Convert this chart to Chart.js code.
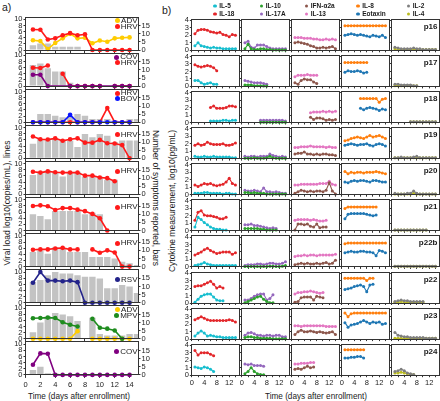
<!DOCTYPE html>
<html>
<head>
<meta charset="utf-8">
<script src="https://cdn.jsdelivr.net/npm/chart.js@4.4.1/dist/chart.umd.min.js"></script>
<style>
  body { margin: 0; width: 440px; height: 401px; position: relative; overflow: hidden; background: #fff;
         font-family: 'Liberation Sans', Arial, sans-serif; color: #1a1a1a; }
  canvas { position: absolute; }
  .txt { position: absolute; white-space: nowrap; }
  .vt { position: absolute; white-space: nowrap; font-size: 8.5px; }
  .dot { display: inline-block; border-radius: 50%; vertical-align: middle; }
</style>
</head>
<body>
<div class="txt" style="left:2px;top:1px;font-size:10.5px">a)</div>
<div class="txt" style="left:162px;top:4px;font-size:10.5px">b)</div>
<div class="vt" style="left:6.5px;top:203px;transform:translate(-50%,-50%) rotate(-90deg)">Viral load log10(copies/mL), lines</div>
<div class="vt" style="left:155.5px;top:198px;transform:translate(-50%,-50%) rotate(90deg)">Number of symptoms reported, bars</div>
<div class="vt" style="left:171.5px;top:201px;transform:translate(-50%,-50%) rotate(-90deg)">Cytokine measurement, log10(pg/mL)</div>
<div class="txt" style="left:79px;top:396px;font-size:8.2px;transform:translate(-50%,-50%)">Time (days after enrollment)</div>
<div class="txt" style="left:316px;top:396px;font-size:8.2px;transform:translate(-50%,-50%)">Time (days after enrollment)</div>
<script>
// ---------- panel a data ----------
const symptomDays = [1, 2, 3, 4, 5, 6, 7, 8, 9, 10, 11, 12, 13, 14, 15]
const virusDays = [1, 2, 3, 4, 5, 6, 7, 8, 9, 10, 11, 12, 13, 14]
const loadTicks = [0, 2, 4, 6, 8, 10]
const symptomTicks = [0, 5, 10, 15]
const dayTicksA = [0, 2, 4, 6, 8, 10, 12, 14]

const symptoms1 = [3, 4, 4, 2, 2, 2, 2, 0, 0, 0, 0, 0, 0, 0, 0]
const symptoms2 = [13, 14, 11, 9, 9, 2, 0, 0, 0, 0, 0, 0, 0, 0, 0]
const symptoms3 = [0, 5, 5, 4, 3, 4, 5, 4, 2, 2, 2, 1, 0, 2, 2]
const symptoms4 = [9, 12, 12, 12, 11, 11, 7, 15, 13, 15, 14, 10, 11, 11, 11]
const symptoms5 = [12, 14, 15, 14, 11, 14, 14, 11, 11, 11, 9, 9, 0, 0, 0]
const symptoms6 = [10, 9, 7, 12, 12, 12, 12, 10, 11, 10, 0, 0, 0, 0, 0]
const symptoms7 = [9, 10, 8, 12, 11, 9, 9, 9, 6, 6, 6, 5, 3, 2, 1]
const symptoms8 = [13, 14, 17, 19, 18, 18, 17, 16, 16, 15, 9, 9, 11, 10, 6]
const symptoms9 = [4, 10, 14, 16, 15, 14, 11, 0, 13, 3, 2, 2, 2, 3, 3]
const symptoms10 = [3, 5, 1, 1, 0, 0, 0, 0, 0, 0, 0, 0, 0, 0, 0]

const adv1 = [3.2, 2.9, 0.3, 2.3, 3.8, 5.3, 3.8, 4.0, 2.2, 3.1, 2.7, 3.8, 4.0, 4.1]
const hrv1 = [6.7, 6.6, 3.4, 3.8, 4.8, 5.5, 4.8, 5.1, 0, 0, 0, 0, 0, 0]
const cov2 = [3.7, 3.7, 0, null, null, 0, 0, 0, 0, 0, null, 0, 0, 0]
const hrv2 = [6.0, 5.9, 6.7, null, 4.0, 0, 0, 0, 0, 0, null, 0, 0, 0]
const hrv3 = [0, 0, 0, 0, 0, 0, 0, 0, 0, 0, 4.6, 0, 0, 0]
const bov3 = [0, 0, 0, 0, 0, 2.4, 0, 0, 0, 0, 0, 0, 0, 0]
const hrv4 = [7.1, 6.2, 6.1, 6.5, 5.7, 6.2, 6.5, 5.1, 5.1, 6.0, 4.9, 4.8, 4.3, 0]
const hrv5 = [7.4, 7.1, 7.5, 7.2, 7.1, 7.1, 7.1, 6.1, 6.1, 5.5, 5.3, 4.3, null, null]
const hrv6 = [8.0, 8.2, 7.9, 6.7, 7.3, 7.3, 6.8, 6.3, 5.4, 4.0, 0, null, null, null]
const hrv7 = [5.5, 5.6, 5.6, 5.9, 6.1, 5.6, 5.6, null, 5.6, 4.5, 5.3, 4.6, 0, 0]
const rsv8 = [6.5, 10.0, 7.2, 7.2, 7.0, 7.2, 6.7, 0, 0, 0, 0, 0, 0, 0]
const adv9 = [0, 0, 0, 0, 0, 0, 2.5, null, 0, 0, 0, 0, 0, 0]
const mpv9 = [6.7, 6.8, 6.9, 6.8, 5.4, 4.6, 4.0, null, 6.5, 3.6, 3.3, 2.7, 0, null]
const cov10 = [3.3, 7.0, 6.9, 0, 0, 0, 0, 0, 0, 0, 0, 0, 0, 0]

// ---------- panel b data (one row per patient) ----------
const patients = ['p16', 'p17', 'p18', 'p19', 'p20', 'p21', 'p22b', 'p22', 'p23', 'p24']
const sampleDays = [
  [1, 2, 3, 4, 5, 6, 7, 8, 9, 10, 11, 12, 13, 14],
  [1, 2, 3, 4, 5, 6, 7, 8],
  [6, 7, 8, 9, 10, 11, 12, 13, 14],
  [1, 2, 3, 4, 5, 6, 7, 8, 9, 10, 11, 12, 13, 14],
  [1, 2, 3, 4, 5, 6, 7, 8, 9, 10, 11, 12, 13, 14],
  [1, 2, 3, 4, 5, 6, 7, 8, 9, 10, 11],
  [1, 2, 3, 4, 5, 6, 7, 8, 9, 10, 11, 12, 13, 14],
  [1, 2, 3, 4, 5, 6, 7, 8, 9, 10],
  [1, 2, 3, 4, 5, 6, 7, 8, 9, 10, 11, 12, 13, 14],
  [1, 2, 3, 4, 5, 6, 7]
]
const cytoTicks = [0, 1, 2, 3, 4]
const dayMarksB = [0, 2, 4, 6, 8, 10, 12, 14]
const dayLabelsB = [0, 4, 8, 12]

const il5 = [
  [0.6, 1.0, 0.6, 0.5, 0.4, 0.3, 0.4, 0.3, 0.3, 0.2, 0.2, 0.2, 0.2, 0.2],
  [0.8, 0.8, 0.5, 0.3, 0.4, 0.5, 0.3, 0.3],
  [0.2, 0.2, 0.2, 0.2, 0.3, 0.3, 0.2, 0.3, 0.3],
  [0.3, 0.2, 0.2, 0.3, 0.2, 0.2, 0.3, 0.2, 0.2, 0.2, 0.2, 0.2, 0.1, 0.1],
  [0.2, 0.2, 0.2, 0.3, 0.3, 0.2, 0.2, 0.2, 0.2, 0.1, 0.2, 0.2, 0.1, 0.1],
  [0.5, 1.8, 1.5, 1.1, 0.8, 0.5, 0.3, 0.2, 0.2, 0.1, 0.1],
  [0.2, 0.3, 0.4, 0.6, 0.4, 0.3, 0.2, 0.2, 0.2, 0.2, 0.2, 0.2, 0.2, 0.2],
  [0.1, 0.5, 0.9, 1.1, 1.2, 1.2, 0.8, 0.4, 0.3, 0.3],
  [0.4, 0.8, 1.1, 0.8, 0.4, 0.5, 0.4, 0.3, 0.3, 0.2, 0.2, 0.2, 0.2, 0.2],
  [1.1, 1.0, 0.9, 1.1, 1.0, 0.8, 0.5]
]
const il18 = [
  [2.2, 2.7, 2.8, 2.8, 2.7, 2.5, 2.4, 2.3, 2.4, 2.1, 2.0, 1.8, 2.1, 2.0],
  [2.9, 2.7, 2.6, 2.7, 2.8, 2.7, 2.5, 2.1],
  [2.0, 2.2, 1.9, 1.9, 1.9, 2.0, 2.2, 2.2, 2.1],
  [1.8, 2.0, 1.8, 1.9, 2.2, 2.0, 1.9, 1.9, 1.9, 2.0, 1.8, 1.8, 1.9, 2.1],
  [1.3, 1.1, 1.3, 1.5, 1.4, 1.5, 1.3, 1.2, 1.3, 1.4, 1.7, 2.2, 1.5, 1.3],
  [1.4, 2.5, 2.7, 2.1, 2.0, 2.0, 1.9, 1.8, 1.6, 1.6, 1.8],
  [1.6, 1.8, 2.0, 2.3, 2.5, 2.2, 2.0, 1.8, 1.9, 2.0, 2.0, 2.0, 1.7, 1.9],
  [2.2, 2.3, 2.3, 2.5, 2.7, 2.9, 2.5, 2.0, 2.2, 2.0],
  [2.6, 2.8, 3.0, 2.8, 2.6, 2.5, 2.5, 2.5, 2.5, 2.5, 2.5, 2.6, 2.5, 2.3],
  [3.3, 2.7, 3.0, 3.0, 3.0, 2.8, 2.6]
]
const il10 = [
  [0.2, 0.8, 0.2, 0.1, 0.1, 0.2, 0.2, 0.1, 0.1, 0.05, 0.05, 0.05, 0.05, 0.05],
  [0.2, 0.2, 0.2, 0.1, 0.1, 0.1, 0.05, 0.05],
  [0.05, 0.05, 0.05, 0.05, 0.05, 0.05, 0.05, 0.05, 0.05],
  [0.05, 0.05, 0.05, 0.1, 0.05, 0.05, 0.05, 0.1, 0.3, 0.1, 0.05, 0.05, 0.05, 0.05],
  [0.3, 0.3, 0.2, 0.3, 0.2, 0.2, 0.2, 0.1, 0.1, 0.1, 0.1, 0.1, 0.1, 0.1],
  [0.3, 0.3, 0.3, 0.3, 0.3, 0.2, 0.2, 0.1, 0.1, 0.1, 0.1],
  [0.05, 0.05, 0.05, 0.05, 0.05, 0.05, 0.05, 0.05, 0.1, 0.1, 0.05, 0.05, 0.1, 0.2],
  [0.05, 0.2, 0.4, 0.6, 0.8, 0.9, 0.5, 0.2, 0.05, 0.05],
  [0.2, 0.3, 0.3, 0.2, 0.2, 0.1, 0.1, 0.1, 0.1, 0.05, 0.05, 0.05, 0.05, 0.05],
  [0.2, 0.5, 1.0, 0.5, 0.2, 0.1, 0.05]
]
const il17a = [
  [1.0, 1.2, 0.4, 0.3, 0.7, 0.7, 0.7, 0.5, 0.3, 0.2, 0.2, 0.2, 0.2, 0.2],
  [0.8, 0.7, 0.6, 0.5, 0.5, 0.5, 0.4, 0.3],
  [0.3, 0.3, 0.3, 0.3, 0.3, 0.3, 0.3, 0.3, 0.2],
  [0.3, 0.2, 0.3, 0.3, 0.2, 0.3, 0.3, 0.3, 0.6, 0.4, 0.3, 0.2, 0.3, 0.2],
  [0.6, 0.5, 0.5, 0.6, 0.5, 0.4, 0.9, 0.4, 0.4, 0.3, 0.4, 0.3, 0.2, 0.2],
  [0.8, 0.8, 0.9, 0.7, 0.7, 0.6, 0.5, 0.4, 0.3, 0.4, 0.3],
  [0.2, 0.3, 0.3, 0.3, 0.4, 0.4, 0.3, 0.4, 0.5, 0.5, 0.4, 0.4, 0.5, 0.7],
  [0.4, 0.4, 0.6, 0.9, 1.1, 1.2, 1.2, 0.4, 0.6, 1.1],
  [0.5, 0.8, 0.9, 0.7, 0.5, 0.5, 0.4, 0.5, 0.5, 0.4, 0.5, 0.5, 0.3, 0.3],
  [1.5, 1.4, 1.5, 1.3, 1.3, 1.3, 1.2]
]
const ifna2a = [
  [1.0, 1.1, 1.0, 0.9, 0.8, 0.6, 0.5, 0.3, 0.3, 0.4, 0.3, 0.4, 0.5, 0.2],
  [0.5, 0.3, 0.8, 1.0, 0.9, 0.9, 0.6, 0.4],
  [0.7, 0.4, 0.6, 0.6, 0.5, 0.3, 0.4, 0.3, 0.4],
  [0.6, 0.7, 0.7, 0.9, 0.6, 0.6, 0.5, 0.6, 0.5, 0.6, 0.6, 0.5, 0.5, 0.4],
  [0.2, 0.4, 0.6, 0.5, 0.4, 0.5, 0.4, 0.5, 0.5, 0.4, 0.6, 1.6, 0.5, 0.1],
  [0.1, 0.9, 0.9, 0.8, 0.9, 0.6, 0.5, 0.9, 0.4, 0.5, 0.5],
  [0.3, 0.4, 0.5, 0.4, 0.5, 0.4, 0.4, 0.5, 0.4, 0.5, 0.6, 0.4, 0.5, 0.9],
  [0.1, 0.2, 0.7, 0.8, 0.8, 0.8, 0.4, 0.9, 0.8, 0.7],
  [0.6, 1.0, 1.2, 1.0, 1.0, 1.1, 1.0, 0.9, 1.0, 0.9, 0.8, 0.9, 1.0, 0.6],
  [0.8, 0.9, 0.8, 1.0, 1.2, 1.0, 1.1]
]
const il13 = [
  [1.7, 1.7, 1.7, 1.6, 1.6, 1.6, 1.5, 1.5, 1.4, 1.4, 1.5, 1.4, 1.5, 1.4],
  [1.3, 1.5, 1.5, 1.5, 1.6, 1.5, 1.5, 1.5],
  [1.3, 1.4, 1.4, 1.4, 1.5, 1.4, 1.5, 1.4, 1.5],
  [1.5, 1.5, 1.6, 1.6, 1.6, 1.7, 1.6, 1.6, 1.6, 1.6, 1.5, 1.6, 1.5, 1.5],
  [1.3, 1.3, 1.4, 1.4, 1.4, 1.4, 1.4, 1.4, 1.5, 1.5, 1.5, 1.8, 1.4, 1.3],
  [1.4, 1.5, 1.5, 1.5, 1.5, 1.4, 1.5, 1.4, 1.3, 1.3, 1.4],
  [1.4, 1.5, 1.5, 1.6, 1.5, 1.6, 1.6, 1.5, 1.6, 1.6, 1.6, 1.6, 1.6, 1.7],
  [1.2, 1.4, 1.4, 1.5, 1.5, 1.6, 1.5, 1.4, 1.3, 1.4],
  [1.8, 1.8, 1.7, 1.8, 1.8, 1.8, 1.8, 1.8, 1.8, 1.8, 1.7, 1.7, 1.7, 1.7],
  [1.5, 1.5, 1.6, 1.6, 1.6, 1.7, 1.7]
]
const il8 = [
  [3.3, 3.3, 3.3, 3.3, 3.3, 3.3, 3.3, 3.3, 3.3, 3.3, 3.3, 3.3, 3.3, 3.3],
  [3.2, 3.2, 3.2, 3.2, 3.2, 3.2, 3.2, 3.2],
  [3.2, 3.2, 3.2, 3.2, 3.2, 3.2, 2.7, 3.1, 3.2],
  [2.4, 2.5, 2.7, 2.8, 2.9, 2.8, 2.7, 2.9, 3.1, 2.9, 3.0, 3.1, 2.9, 2.7],
  [3.1, 2.8, 3.0, 2.9, 3.0, 3.0, 2.9, 3.0, 3.0, 3.0, 3.1, 3.0, 2.9, 2.8],
  [3.0, 3.2, 3.2, 3.2, 3.2, 3.2, 3.2, 3.2, 3.2, 3.2, 3.2],
  [3.1, 3.2, 3.2, 3.2, 3.2, 3.2, 3.2, 3.2, 3.2, 3.2, 3.2, 3.2, 3.2, 3.2],
  [3.3, 3.3, 3.3, 3.3, 3.3, 3.3, 3.3, 3.0, 3.3, 3.3],
  [3.5, 3.0, 3.4, 3.5, 3.5, 3.5, 3.5, 3.5, 3.5, 3.5, 3.5, 3.5, 3.5, 3.5],
  [3.4, 3.4, 3.4, 3.4, 3.4, 3.4, 3.4]
]
const eotaxin = [
  [2.0, 2.1, 2.2, 2.1, 2.0, 2.1, 2.0, 1.9, 1.8, 2.0, 1.9, 1.8, 2.0, 1.7],
  [1.9, 2.1, 2.0, 2.0, 2.1, 2.0, 1.8, 1.9],
  [1.9, 1.7, 1.9, 2.0, 1.9, 1.8, 1.6, 1.8, 1.7],
  [1.8, 1.9, 2.0, 1.9, 1.8, 1.9, 1.9, 2.0, 1.8, 1.7, 1.9, 2.0, 1.9, 1.7],
  [1.7, 1.6, 1.8, 1.9, 1.8, 1.9, 1.9, 1.8, 1.7, 1.9, 1.9, 1.8, 1.7, 1.7],
  [1.6, 2.2, 2.3, 2.3, 2.3, 2.3, 2.3, 2.2, 2.1, 2.0, 2.1],
  [1.9, 2.0, 2.1, 2.0, 2.0, 2.1, 2.1, 2.0, 2.0, 1.9, 1.5, 2.2, 2.1, 1.9],
  [1.8, 1.9, 2.0, 2.2, 2.3, 2.4, 2.2, 1.5, 2.4, 2.5],
  [2.2, 1.6, 1.9, 2.0, 2.1, 2.3, 2.5, 2.3, 2.1, 2.3, 2.2, 2.3, 2.0, 2.1],
  [2.3, 2.3, 2.4, 2.4, 2.5, 2.5, 2.3]
]
const il2 = [
  [0.4, 0.3, 0.2, 0.2, 0.2, 0.2, 0.3, 0.2, 0.2, 0.1, 0.1, 0.1, 0.1, 0.1],
  [0.3, 0.3, 0.2, 0.2, 0.2, 0.2, 0.1, 0.1],
  [0.1, 0.1, 0.1, 0.1, 0.1, 0.1, 0.1, 0.1, 0.1],
  [0.1, 0.1, 0.2, 0.1, 0.1, 0.1, 0.2, 0.3, 0.1, 0.1, 0.1, 0.1, 0.1, 0.1],
  [0.2, 0.1, 0.1, 0.1, 0.2, 0.2, 0.5, 0.2, 0.1, 0.1, 0.1, 0.1, 0.1, 0.1],
  [0.1, 0.1, 0.1, 0.1, 0.1, 0.1, 0.1, 0.1, 0.1, 0.1, 0.1],
  [0.1, 0.1, 0.1, 0.1, 0.1, 0.1, 0.1, 0.1, 0.1, 0.1, 0.1, 0.1, 0.1, 0.1],
  [0.2, 0.3, 0.4, 0.3, 0.3, 0.2, 0.2, 0.2, 0.2, 0.2],
  [0.9, 0.5, 0.4, 0.3, 0.3, 0.2, 0.2, 0.2, 0.2, 0.2, 0.1, 0.1, 0.1, 0.1],
  [0.5, 0.6, 0.8, 0.6, 0.3, 0.2, 0.1]
]
const il4 = [
  [0.2, 0.1, 0.1, 0.1, 0.1, 0.1, 0.1, 0.1, 0.1, 0.1, 0.1, 0.1, 0.1, 0.1],
  [0.1, 0.1, 0.1, 0.1, 0.1, 0.1, 0.1, 0.1],
  [0.1, 0.1, 0.1, 0.1, 0.1, 0.1, 0.1, 0.1, 0.1],
  [0.1, 0.1, 0.1, 0.1, 0.1, 0.1, 0.1, 0.1, 0.1, 0.1, 0.1, 0.1, 0.1, 0.1],
  [0.1, 0.1, 0.1, 0.1, 0.1, 0.1, 0.2, 0.1, 0.1, 0.1, 0.1, 0.1, 0.1, 0.1],
  [0.1, 0.1, 0.1, 0.1, 0.1, 0.1, 0.1, 0.1, 0.1, 0.1, 0.1],
  [0.1, 0.1, 0.1, 0.1, 0.1, 0.1, 0.1, 0.1, 0.1, 0.1, 0.1, 0.1, 0.1, 0.1],
  [0.1, 0.1, 0.2, 0.1, 0.1, 0.1, 0.1, 0.1, 0.1, 0.1],
  [0.1, 0.1, 0.1, 0.1, 0.1, 0.1, 0.1, 0.1, 0.1, 0.1, 0.1, 0.1, 0.1, 0.1],
  [0.3, 0.3, 0.4, 0.3, 0.2, 0.1, 0.1]
]

// ---------- styles ----------
const virusColors = { HRV: '#ff1a1a', ADV: '#ffcc00', COV: '#800080', BOV: '#0a14ff', RSV: '#23238a', MPV: '#1e8c1e' }
const barColor = '#c3c3c3'
const frameColor = '#333'

// panel a: legend order, and which line sits on top
const virusPanels = [
  { bars: symptoms1, series: [['ADV', adv1], ['HRV', hrv1]], top: 'HRV' },
  { bars: symptoms2, series: [['COV', cov2], ['HRV', hrv2]], top: 'COV', span: 'COV' },
  { bars: symptoms3, series: [['HRV', hrv3], ['BOV', bov3]], top: 'BOV' },
  { bars: symptoms4, series: [['HRV', hrv4]] },
  { bars: symptoms5, series: [['HRV', hrv5]] },
  { bars: symptoms6, series: [['HRV', hrv6]] },
  { bars: symptoms7, series: [['HRV', hrv7]] },
  { bars: symptoms8, series: [['RSV', rsv8]] },
  { bars: symptoms9, series: [['ADV', adv9], ['MPV', mpv9]], top: 'MPV' },
  { bars: symptoms10, series: [['COV', cov10]] }
]

// panel b columns: [name, values, colour]
const cytoColumns = [
  [['IL-5', il5, '#17becf'], ['IL-18', il18, '#e3262a']],
  [['IL-10', il10, '#2ca02c'], ['IL-17A', il17a, '#9467bd']],
  [['IFN-α2a', ifna2a, '#8c564b'], ['IL-13', il13, '#e377c2']],
  [['IL-8', il8, '#ff7f0e'], ['Eotaxin', eotaxin, '#1f77b4']],
  [['IL-2', il2, '#7f7f7f'], ['IL-4', il4, '#bcbd22']]
]
const legendX = [215, 261.5, 306.5, 358, 408.5]

Chart.defaults.font.family = "'Liberation Sans', Arial, sans-serif"
Chart.defaults.font.size = 7.5
Chart.defaults.color = '#222'
Chart.defaults.animation = false
Chart.defaults.events = []
Chart.defaults.plugins.legend.display = false
Chart.defaults.plugins.tooltip.enabled = false

const framePlugin = {
  id: 'frame',
  afterDraw(chart) {
    const { ctx, chartArea: a } = chart
    const snap = v => Math.round(v - 0.5) + 0.5
    const l = snap(a.left), t = snap(a.top), r = snap(a.right), b = snap(a.bottom)
    ctx.save()
    ctx.strokeStyle = frameColor
    ctx.lineWidth = 1
    ctx.strokeRect(l, t, r - l, b - t)
    ctx.restore()
  }
}

// canvas placed so the plot area lands on the given page box
function frameBox(left, top, w, h, extL, extR, extT, extB) {
  const cx = Math.floor(left - extL), cy = Math.floor(top - extT)
  const cw = Math.ceil(left + w + extR) - cx
  const ch = Math.ceil(top + h + extB) - cy
  return { cx, cy, cw, ch, left: left - cx, right: cx + cw - (left + w), top: top - cy, bottom: cy + ch - (top + h) }
}

function addCanvas(b) {
  const c = document.createElement('canvas')
  c.width = b.cw
  c.height = b.ch
  c.style.left = b.cx + 'px'
  c.style.top = b.cy + 'px'
  c.style.width = b.cw + 'px'
  c.style.height = b.ch + 'px'
  document.body.appendChild(c)
  return c
}

function addDiv(html, css) {
  const d = document.createElement('div')
  d.className = 'txt'
  d.style.cssText += css
  d.innerHTML = html
  document.body.appendChild(d)
  return d
}

const tickGrid = len => ({ drawOnChartArea: false, offset: false, tickLength: len, color: frameColor })
const setTicks = list => s => { s.ticks = list.map(v => ({ value: v })) }

// ---------- panel a ----------
const A_LEFT = 25.5, A_W = 113, A_TOP = 17, A_STEP = 36.1, A_H = 33

virusPanels.forEach((p, i) => {
  const last = i === virusPanels.length - 1
  const plotTop = A_TOP + A_STEP * i
  const b = frameBox(A_LEFT, plotTop, A_W, A_H, 17, 20, 6, last ? 16 : 6)

  const datasets = [{
    type: 'bar',
    data: symptomDays.map((d, k) => ({ x: d, y: p.bars[k] })),
    yAxisID: 'y1',
    backgroundColor: barColor,
    barPercentage: 0.86,
    categoryPercentage: 1,
    order: 5
  }]
  p.series.forEach(([name, vals]) => {
    const c = virusColors[name]
    datasets.push({
      type: 'line',
      label: name,
      data: virusDays.map((d, k) => ({ x: d, y: vals[k] })),
      yAxisID: 'y',
      borderColor: c,
      backgroundColor: c,
      pointBackgroundColor: c,
      borderWidth: 1.6,
      pointRadius: 2.3,
      pointBorderWidth: 0,
      spanGaps: p.span === name,
      clip: 5,
      order: p.top === name ? 0 : 1
    })
  })

  new Chart(addCanvas(b), {
    type: 'bar',
    data: { datasets },
    plugins: [framePlugin],
    options: {
      responsive: false,
      devicePixelRatio: 1,
      layout: { padding: { top: b.top, left: 0, right: 0, bottom: 0 }, autoPadding: false },
      scales: {
        x: {
          type: 'linear', min: 0, max: 15.2, offset: false,
          afterFit: s => { s.height = b.bottom },
          afterBuildTicks: setTicks(dayTicksA),
          ticks: { display: last, padding: 3, maxRotation: 0, autoSkip: false },
          grid: tickGrid(3),
          border: { display: false }
        },
        y: {
          type: 'linear', position: 'left', min: 0, max: 10.75,
          afterFit: s => { s.width = b.left },
          afterBuildTicks: setTicks(loadTicks),
          ticks: { display: true, padding: 1, autoSkip: false },
          grid: tickGrid(2),
          border: { display: false }
        },
        y1: {
          type: 'linear', position: 'right', min: 0, max: 20.4,
          afterFit: s => { s.width = b.right },
          afterBuildTicks: setTicks(symptomTicks),
          ticks: { display: true, padding: 1, autoSkip: false },
          grid: tickGrid(2),
          border: { display: false }
        }
      }
    }
  })

  // legend, top right inside the plot
  const n = p.series.length
  const rows = p.series.map(([name]) =>
    `<div><span class="dot" style="width:5px;height:5px;margin-right:1px;background:${virusColors[name]}"></span>${name}</div>`).join('')
  addDiv(rows, `right:${440 - 137.5}px;top:${plotTop + 9.8 - 3 - 5.7 * (n - 1)}px;font-size:8px;line-height:5.7px;text-align:right`)
})

// ---------- panel b ----------
const B_LEFT = 191.8, B_COL = 50, B_W = 47.4, B_TOP = 19.3, B_STEP = 36.1, B_H = 31

patients.forEach((pname, r) => {
  const last = r === patients.length - 1
  const plotTop = B_TOP + B_STEP * r
  cytoColumns.forEach((col, c) => {
    const plotLeft = B_LEFT + B_COL * c
    const b = frameBox(plotLeft, plotTop, B_W, B_H, 10, 3, 6, last ? 14 : 6)
    const datasets = col.map(([name, vals, color]) => ({
      label: name,
      data: sampleDays[r].map((d, k) => ({ x: d, y: vals[r][k] })),
      borderColor: color,
      backgroundColor: color,
      pointBackgroundColor: color,
      borderWidth: 1.1,
      pointRadius: 1.5,
      pointBorderWidth: 0,
      clip: 3
    }))
    new Chart(addCanvas(b), {
      type: 'line',
      data: { datasets },
      plugins: [framePlugin],
      options: {
        responsive: false,
        devicePixelRatio: 1,
        layout: { padding: { top: b.top, left: 0, right: b.right, bottom: 0 }, autoPadding: false },
        scales: {
          x: {
            type: 'linear', min: 0, max: 15.2, offset: false,
            afterFit: s => { s.height = b.bottom },
            afterBuildTicks: setTicks(dayMarksB),
            ticks: { display: last, padding: 1, maxRotation: 0, autoSkip: false,
                     callback: v => dayLabelsB.includes(v) ? String(v) : '' },
            grid: tickGrid(2),
            border: { display: false }
          },
          y: {
            min: 0, max: 4.15,
            afterFit: s => { s.width = b.left },
            afterBuildTicks: setTicks(cytoTicks),
            ticks: { display: c === 0, padding: 1, autoSkip: false },
            grid: tickGrid(2),
            border: { display: false }
          }
        }
      }
    })
  })
  addDiv(pname, `right:${440 - 437.5}px;top:${plotTop + 6.5}px;transform:translateY(-50%);font-size:8px;font-weight:bold`)
})

// panel b legend
cytoColumns.forEach((col, c) => {
  col.forEach(([name, , color], row) => {
    addDiv(`<span class="dot" style="width:3.5px;height:3.5px;margin-right:2.5px;background:${color}"></span>${name}`,
      `left:${legendX[c] - 1.75}px;top:${row === 0 ? 5 : 13.3}px;transform:translateY(-50%);font-size:6.5px;font-weight:bold;line-height:7px`)
  })
})
</script>
</body>
</html>
